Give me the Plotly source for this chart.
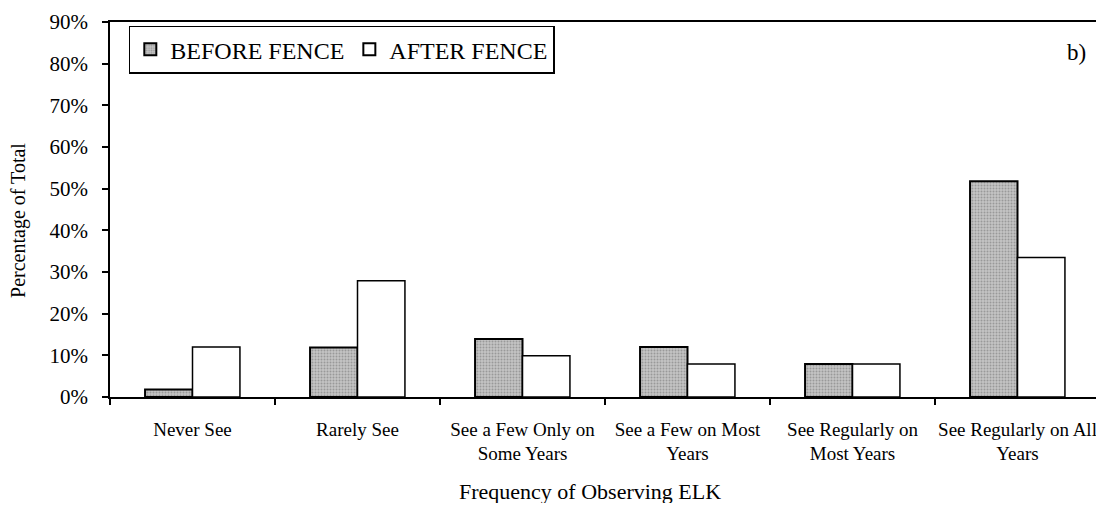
import plotly.graph_objects as go

categories = [
    "Never See",
    "Rarely See",
    "See a Few Only on<br>Some Years",
    "See a Few on Most<br>Years",
    "See Regularly on<br>Most Years",
    "See Regularly on All<br>Years",
]
before_fence = [1.8, 11.9, 13.9, 12.0, 7.9, 51.8]
after_fence = [12.0, 27.9, 9.9, 7.9, 7.9, 33.5]
y_ticks = [0, 10, 20, 30, 40, 50, 60, 70, 80, 90]
y_tick_labels = [f"{v}%" for v in y_ticks]

FONT = "Liberation Serif"

fig = go.Figure()
fig.add_trace(go.Bar(
    name="BEFORE FENCE",
    x=categories,
    y=before_fence,
    marker=dict(
        color="#bdbdbd",
        line=dict(color="black", width=2),
        pattern=dict(shape=".", fgcolor="#6e6e6e", bgcolor="#c4c4c4", size=3, solidity=0.35),
    ),
))
fig.add_trace(go.Bar(
    name="AFTER FENCE",
    x=categories,
    y=after_fence,
    marker=dict(color="white", line=dict(color="black", width=1.5)),
))

fig.update_layout(
    width=1096,
    height=495,
    margin=dict(l=102, r=2, t=9, b=106),
    paper_bgcolor="white",
    plot_bgcolor="white",
    barmode="group",
    bargap=0.425,
    bargroupgap=0,
    font=dict(family=FONT, color="black", size=19),
    showlegend=True,
    legend=dict(
        orientation="h",
        x=0.019,
        y=0.99,
        xanchor="left",
        yanchor="top",
        bgcolor="white",
        bordercolor="black",
        borderwidth=1.5,
        font=dict(family=FONT, size=24, color="black"),
        itemsizing="constant",
        traceorder="normal",
        itemwidth=30,
        tracegroupgap=0,
    ),
    annotations=[
        dict(text="Frequency of Observing ELK", xref="paper", yref="paper",
             x=0.485, y=-0.253, xanchor="center", yanchor="middle", showarrow=False,
             font=dict(family=FONT, size=22, color="black")),
        dict(text="Percentage of Total", xref="paper", yref="paper",
             x=-0.0917, y=0.47, xanchor="center", yanchor="middle", showarrow=False,
             textangle=-90, font=dict(family=FONT, size=20, color="black")),
        dict(text="b)", xref="paper", yref="paper",
             x=0.976, y=0.918, xanchor="center", yanchor="middle", showarrow=False,
             font=dict(family=FONT, size=23, color="black")),
    ],
)

fig.update_yaxes(
    range=[0, 90],
    tickvals=y_ticks,
    ticktext=y_tick_labels,
    ticks="outside",
    ticklen=6,
    tickwidth=1.5,
    tickcolor="black",
    showline=True,
    linecolor="black",
    linewidth=1.5,
    mirror=True,
    showgrid=False,
    zeroline=False,
    tickfont=dict(family=FONT, size=21, color="black"),
    ticklabelstandoff=10,
    ticklabeloverflow="allow",
)
fig.update_xaxes(
    type="category",
    ticks="outside",
    tickson="boundaries",
    ticklen=6,
    tickwidth=1.5,
    tickcolor="black",
    showline=True,
    linecolor="black",
    linewidth=1.5,
    mirror=True,
    showgrid=False,
    tickangle=0,
    tickfont=dict(family=FONT, size=19, color="black"),
    ticklabelstandoff=14,
)

fig.write_html("out.html")
